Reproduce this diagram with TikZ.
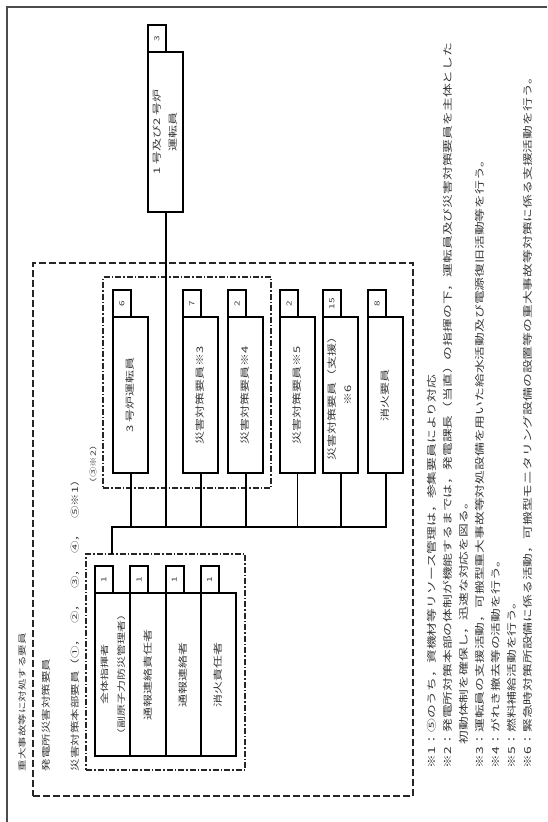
\documentclass[tikz,border=0pt]{standalone}
\usepackage{fontspec}
\usepackage{graphicx}
\setmainfont{Noto Sans CJK JP}
\usetikzlibrary{positioning}
\definecolor{inkgray}{gray}{0.22}
\newcommand{\vtxt}[1]{\rotatebox{90}{\scalebox{1}[0.7]{#1}}}

\begin{document}
\begin{tikzpicture}[x=1pt, y=-1pt,
  every node/.style={inner sep=0pt, outer sep=0pt},
  member/.style={rectangle, draw=black, line width=2pt, minimum width=35pt,
    text=inkgray, font=\fontsize{13}{22}\selectfont},
  count/.style={rectangle, draw=black, line width=2pt, minimum width=18pt,
    minimum height=27pt, anchor=south west, text=inkgray, font=\fontsize{10}{12}\selectfont},
  wire/.style={line width=2pt},
  thinwire/.style={line width=0.9pt},
  crewframe/.style={draw=black!85, line width=1.8pt, dash pattern=on 7pt off 3pt},
  subframe/.style={draw=black!85, line width=1.6pt, dash pattern=on 6pt off 2pt on 1.5pt off 2pt},
  caption/.style={anchor=south, text=inkgray, font=\fontsize{11.5}{13}\selectfont}]
\fill[white] (0,0) rectangle (547,822);
\useasboundingbox (0,0) rectangle (547,822);
\draw[line width=2pt, black!70] (547,7) -- (7,7) -- (7,822);

\node[crewframe, minimum width=380pt, minimum height=533pt, anchor=north west] (crew) at (33,263) {};
\node[subframe, minimum width=168pt, minimum height=211pt, anchor=north west] (grpA) at (103,277) {};
\node[subframe, minimum width=159pt, minimum height=216pt, anchor=north west] (grpB) at (86,554) {};

\node[member, minimum height=160pt, anchor=north west] (u0) at (148,52)
  {\vtxt{\begin{tabular}{@{}c@{}}1 号及び2 号炉\\運転員\end{tabular}}};
\node[count] (c0) at (u0.north west) {\vtxt{3}};

\node[member, minimum height=156pt, anchor=north west] (u1) at (113,317) {\vtxt{3 号炉運転員}};
\node[count] (c1) at (u1.north west) {\vtxt{6}};
\node[member, minimum height=156pt, anchor=north west] (u2) at (183,317) {\vtxt{災害対策要員※3}};
\node[count] (c2) at (u2.north west) {\vtxt{7}};
\node[member, minimum height=156pt, anchor=north west] (u3) at (228,317) {\vtxt{災害対策要員※4}};
\node[count] (c3) at (u3.north west) {\vtxt{2}};
\node[member, minimum height=156pt, anchor=north west] (u4) at (280,317) {\vtxt{災害対策要員※5}};
\node[count] (c4) at (u4.north west) {\vtxt{2}};
\node[member, minimum height=156pt, anchor=north west] (u5) at (323,317)
  {\vtxt{\begin{tabular}{@{}c@{}}災害対策要員（支援）\\※6\end{tabular}}};
\node[count] (c5) at (u5.north west) {\vtxt{15}};
\node[member, minimum height=156pt, anchor=north west] (u6) at (368,317) {\vtxt{消火要員}};
\node[count] (c6) at (u6.north west) {\vtxt{8}};

\node[member, minimum width=35.25pt, minimum height=163pt, anchor=north west,
  font=\fontsize{12}{24}\selectfont] (l1) at (95,593)
  {\vtxt{\begin{tabular}{@{}c@{}}全体指揮者\\（副原子力防災管理者）\end{tabular}}};
\node[count] (d1) at (l1.north west) {\vtxt{1}};
\node[member, minimum width=35.25pt, minimum height=163pt, right=0pt of l1] (l2) {\vtxt{通報連絡責任者}};
\node[count] (d2) at (l2.north west) {\vtxt{1}};
\node[member, minimum width=35.25pt, minimum height=163pt, right=0pt of l2] (l3) {\vtxt{通報連絡者}};
\node[count] (d3) at (l3.north west) {\vtxt{1}};
\node[member, minimum width=35.25pt, minimum height=163pt, right=0pt of l3] (l4) {\vtxt{消火責任者}};
\node[count] (d4) at (l4.north west) {\vtxt{1}};

\coordinate (busL) at (112,527);
\draw[wire] (busL |- grpB.north) -- (busL) -- (busL -| u6.south) -- (u6.south);
\draw[wire] (u0.south) -- (u0.south |- busL);
\foreach \n in {1,2,3,5}
  \draw[wire] (u\n.south) -- (u\n.south |- busL);
\draw[thinwire] (u4.south) -- (u4.south |- busL);

\node[caption] (t1) at (22,771) {\vtxt{重大事故等に対処する要員}};
\node[caption, font=\fontsize{12.5}{14}\selectfont] (t2) at (46,771) {\vtxt{発電所災害対策要員}};
\node[caption, font=\fontsize{12.5}{14}\selectfont] (t3) at (75,771)
  {\vtxt{災害対策本部要員（①，\hspace{0.8em}②，\hspace{0.8em}③，\hspace{0.8em}④，\hspace{0.8em}⑤※1）}};
\node[caption, font=\fontsize{10.5}{12}\selectfont] (t4) at (93,488) {\vtxt{（③※2）}};

\node[anchor=south west, text=inkgray, font=\fontsize{13.8}{23}\selectfont] (notes) at (424,768)
  {\vtxt{\begin{tabular}{@{}l@{}}
  ※1：⑤のうち，資機材等リソース管理は，参集要員により対応\\
  ※2：発電所対策本部の体制が機能するまでは，発電課長（当直）の指揮の下，運転員及び災害対策要員を主体とした\\
  \hspace{1.7em}初動体制を確保し，迅速な対応を図る。\\
  ※3：運転員の支援活動，可搬型重大事故等対処設備を用いた給水活動及び電源復旧活動等を行う。\\
  ※4：がれき撤去等の活動を行う。\\
  ※5：燃料補給活動を行う。\\
  ※6：緊急時対策所設備に係る活動，可搬型モニタリング設備の設置等の重大事故等対策に係る支援活動を行う。
  \end{tabular}}};
\end{tikzpicture}
\end{document}
